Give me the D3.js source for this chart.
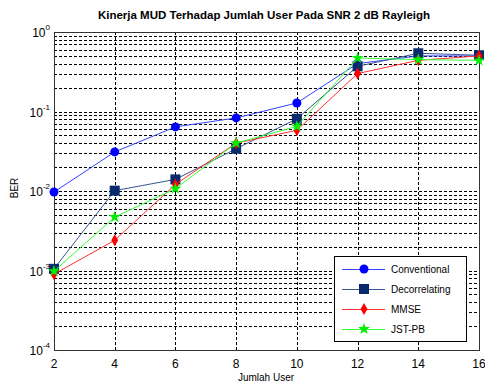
<!DOCTYPE html>
<html>
<head>
<meta charset="utf-8">
<script src="https://cdn.jsdelivr.net/npm/d3@7"></script>
<style>
body { margin: 0; background: #fff; }
text { font-family: "Liberation Sans", Arial, sans-serif; }
</style>
</head>
<body>
<div id="chart"></div>
<script>
// BER vs jumlah user, SNR 2 dB Rayleigh
var users = [2, 4, 6, 8, 10, 12, 14, 16];
var conventional = [0.0097, 0.031, 0.064, 0.083, 0.128, 0.40, 0.50, 0.50];
var decorrelating = [0.00105, 0.0101, 0.014, 0.034, 0.081, 0.37, 0.54, 0.51];
var mmse = [0.0009, 0.0024, 0.0121, 0.040, 0.058, 0.30, 0.44, 0.50];
var jstpb = [0.00098, 0.0047, 0.0107, 0.040, 0.065, 0.47, 0.45, 0.44];
var series = ["Conventional", "Decorrelating", "MMSE", "JST-PB"];
var xTicks = [2, 4, 6, 8, 10, 12, 14, 16];
var yExp = [0, -1, -2, -3, -4];

var color = ["#0000ff", "#0a2a6e", "#ff0000", "#00ee00"];
var lineColor = ["#3344ff", "#3a5590", "#ff3030", "#33ff33"];
var allData = [conventional, decorrelating, mmse, jstpb];

var W = 485, H = 383;
var pLeft = 54, pRight = 479, pTop = 32, pBottom = 350;

var svg = d3.select("#chart").append("svg")
    .attr("width", W).attr("height", H);

var x = d3.scaleLinear().domain([2, 16]).range([pLeft, pRight]);
var y = d3.scaleLog().domain([1e-4, 1]).range([pBottom, pTop]);

// grid
var minor = [];
for (var e = -4; e < 0; e++) {
    for (var m = 1; m < 10; m++) minor.push(m * Math.pow(10, e));
}
minor.push(1);
svg.selectAll(".gy").data(minor).enter().append("line")
    .attr("x1", pLeft).attr("x2", pRight)
    .attr("y1", function(d) { return Math.round(y(d)) + 0.5; })
    .attr("y2", function(d) { return Math.round(y(d)) + 0.5; })
    .style("stroke", "#000").style("stroke-width", 1)
    .style("stroke-dasharray", "3,2");

svg.selectAll(".gx").data(xTicks).enter().append("line")
    .attr("x1", function(d) { return Math.round(x(d)) + 0.5; })
    .attr("x2", function(d) { return Math.round(x(d)) + 0.5; })
    .attr("y1", pTop).attr("y2", pBottom)
    .style("stroke", "#000").style("stroke-width", 1)
    .style("stroke-dasharray", "3,2");

// axes box
svg.append("rect")
    .attr("x", pLeft + 0.5).attr("y", pTop + 0.5)
    .attr("width", pRight - pLeft).attr("height", pBottom - pTop)
    .attr("fill", "none").style("stroke", "#333").style("stroke-width", 1);

// x tick labels
svg.selectAll(".xt").data(xTicks).enter().append("text")
    .attr("x", function(d) { return x(d); })
    .attr("y", 368)
    .attr("text-anchor", "middle")
    .style("font-size", "12px")
    .text(function(d) { return d; });

// y tick labels
yExp.forEach(function(e) {
    var t = svg.append("text")
        .attr("x", 50).attr("y", y(Math.pow(10, e)) + 5)
        .attr("text-anchor", "end")
        .style("font-size", "12px");
    t.append("tspan").text("10");
    t.append("tspan").attr("dy", -7).style("font-size", "8px").text(e);
});

// titles
svg.append("text")
    .attr("x", 264).attr("y", 19)
    .attr("text-anchor", "middle")
    .style("font-size", "11.5px").style("font-weight", "bold")
    .text("Kinerja MUD Terhadap Jumlah User Pada SNR 2 dB Rayleigh");

svg.append("text")
    .attr("x", 266).attr("y", 381)
    .attr("text-anchor", "middle")
    .style("font-size", "10px")
    .text("Jumlah User");

svg.append("text")
    .attr("transform", "translate(18,188) rotate(-90)")
    .attr("text-anchor", "middle")
    .style("font-size", "10px")
    .text("BER");

// markers
function marker(g, i, cx, cy) {
    if (i == 0) {
        g.append("circle").attr("cx", cx).attr("cy", cy).attr("r", 4.5)
            .attr("fill", color[0]);
    } else if (i == 1) {
        g.append("rect").attr("x", cx - 5).attr("y", cy - 5)
            .attr("width", 10).attr("height", 10).attr("fill", color[1]);
    } else if (i == 2) {
        g.append("path")
            .attr("d", "M" + cx + "," + (cy - 6) + "L" + (cx + 3.5) + "," + cy +
                "L" + cx + "," + (cy + 6) + "L" + (cx - 3.5) + "," + cy + "Z")
            .attr("fill", color[2]);
    } else {
        g.append("path")
            .attr("transform", "translate(" + cx + "," + cy + ")")
            .attr("d", d3.symbol().type(d3.symbolStar).size(45)())
            .attr("fill", color[3]);
    }
}

var line = d3.line()
    .x(function(d, k) { return x(users[k]); })
    .y(function(d) { return y(d); });

allData.forEach(function(data, i) {
    svg.append("path")
        .attr("d", line(data))
        .attr("fill", "none")
        .style("stroke", lineColor[i]).style("stroke-width", 1);
    var g = svg.append("g");
    data.forEach(function(d, k) { marker(g, i, x(users[k]), y(d)); });
});

// legend
var lx = 334, ly = 256;
svg.append("rect")
    .attr("x", lx + 0.5).attr("y", ly + 0.5)
    .attr("width", 132).attr("height", 85)
    .attr("fill", "#fff").style("stroke", "#000").style("stroke-width", 1);

series.forEach(function(s, i) {
    var yy = ly + 13 + i * 20;
    svg.append("line")
        .attr("x1", lx + 8).attr("x2", lx + 51)
        .attr("y1", yy + 0.5).attr("y2", yy + 0.5)
        .style("stroke", lineColor[i]).style("stroke-width", 1);
    marker(svg, i, lx + 30, yy);
    svg.append("text")
        .attr("x", lx + 57).attr("y", yy + 4)
        .style("font-size", "10px")
        .text(s);
});
</script>
</body>
</html>
